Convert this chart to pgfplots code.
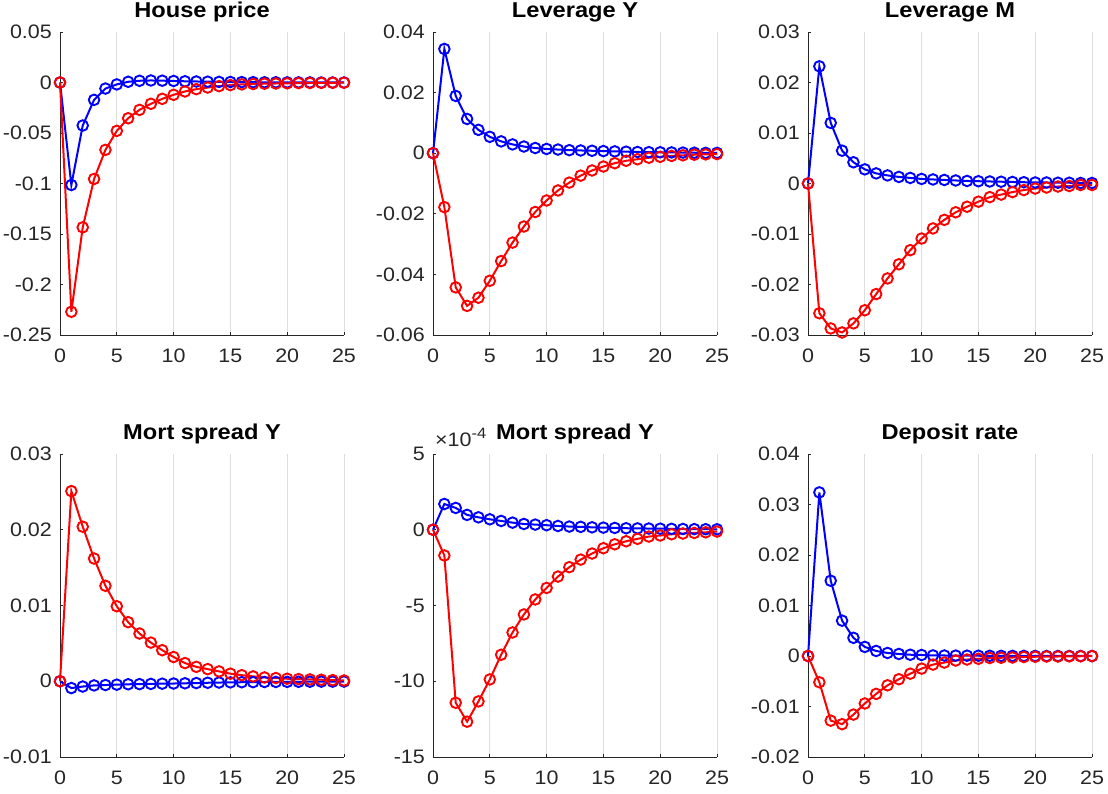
\documentclass[border=0pt]{standalone}
\usepackage{fontspec}
\setmainfont{Liberation Sans}[FakeStretch=1.1]
\usepackage{pgfplots}
\pgfplotsset{compat=1.18}
\definecolor{axc}{RGB}{38,38,38}
\definecolor{gridc}{RGB}{222,222,222}
\definecolor{mblue}{RGB}{0,0,255}
\definecolor{mred}{RGB}{255,0,0}
\pgfplotsset{
  panel/.style={
    scale only axis, width=284pt, height=303pt,
    anchor=south west,
    xmin=0, xmax=25, xtick={0,5,10,15,20,25},
    xticklabels={0,5,10,15,20,25},
    scaled y ticks=false, scaled x ticks=false,
    axis x line*=bottom, axis y line*=left,
    xmajorgrids, grid style={color=gridc, line width=0.7pt},
    tick align=inside, major tick length=3pt,
    axis line style={color=axc, line width=0.7pt},
    tick style={color=axc, line width=0.7pt},
    ticklabel style={font=\fontsize{19.5}{19.5}\selectfont, text=axc},
    yticklabel style={anchor=east, inner sep=0pt, xshift=-8pt},
    xticklabel style={anchor=north, inner sep=0pt, yshift=-14pt},
    title style={font=\bfseries\fontsize{21.5}{21.5}\selectfont, at={(0.5,1)}, anchor=base, yshift=8pt},
    clip=false,
  },
  bl/.style={color=mblue, line width=2pt, mark=o, mark size=5.3pt, mark options={solid, line width=1.9pt}},
  rd/.style={color=mred, line width=2pt, mark=o, mark size=5.3pt, mark options={solid, line width=1.9pt}},
}
\begin{document}
\begin{tikzpicture}[x=1pt,y=1pt]
% ---------------- Panel 1
\begin{axis}[panel, at={(60pt,459pt)}, title={House price},
  ymin=-0.25, ymax=0.05, ytick={-0.25,-0.2,-0.15,-0.1,-0.05,0,0.05},
  yticklabels={-0.25,-0.2,-0.15,-0.1,-0.05,0,0.05}]
\addplot[bl] coordinates {(0,0) (1,-0.1015) (2,-0.0426) (3,-0.0172) (4,-0.0060) (5,-0.0019) (6,0.0007) (7,0.0017) (8,0.0020) (9,0.0018) (10,0.0015) (11,0.0012) (12,0.0010) (13,0.0008) (14,0.0006) (15,0.0005) (16,0.0004) (17,0.0003) (18,0.0002) (19,0.0002) (20,0.0001) (21,0.0001) (22,0.0001) (23,0.0000) (24,0.0000) (25,0.0000)};
\addplot[rd] coordinates {(0,0) (1,-0.2270) (2,-0.1434) (3,-0.0955) (4,-0.0667) (5,-0.0479) (6,-0.0354) (7,-0.0271) (8,-0.0211) (9,-0.0162) (10,-0.0122) (11,-0.0089) (12,-0.0066) (13,-0.0050) (14,-0.0036) (15,-0.0026) (16,-0.0019) (17,-0.0015) (18,-0.0012) (19,-0.0010) (20,-0.0008) (21,-0.0006) (22,-0.0005) (23,-0.0004) (24,-0.0003) (25,-0.0002)};
\end{axis}
% ---------------- Panel 2
\begin{axis}[panel, at={(433pt,459pt)}, title={Leverage Y},
  ymin=-0.06, ymax=0.04, ytick={-0.06,-0.04,-0.02,0,0.02,0.04},
  yticklabels={-0.06,-0.04,-0.02,0,0.02,0.04}]
\addplot[bl] coordinates {(0,0) (1,0.0344) (2,0.0189) (3,0.0113) (4,0.0077) (5,0.0054) (6,0.0039) (7,0.0029) (8,0.0022) (9,0.0017) (10,0.0014) (11,0.0012) (12,0.0010) (13,0.0009) (14,0.0008) (15,0.0007) (16,0.0006) (17,0.0005) (18,0.0004) (19,0.00035) (20,0.0003) (21,0.00025) (22,0.0002) (23,0.00015) (24,0.0001) (25,0.0001)};
\addplot[rd] coordinates {(0,0) (1,-0.0178) (2,-0.0443) (3,-0.0504) (4,-0.0477) (5,-0.0421) (6,-0.0356) (7,-0.0295) (8,-0.0242) (9,-0.0194) (10,-0.0156) (11,-0.0123) (12,-0.0097) (13,-0.0074) (14,-0.0057) (15,-0.0044) (16,-0.0033) (17,-0.0025) (18,-0.0020) (19,-0.0015) (20,-0.0012) (21,-0.0009) (22,-0.0007) (23,-0.0005) (24,-0.0004) (25,-0.0003)};
\end{axis}
% ---------------- Panel 3
\begin{axis}[panel, at={(808pt,459pt)}, title={Leverage M},
  ymin=-0.03, ymax=0.03, ytick={-0.03,-0.02,-0.01,0,0.01,0.02,0.03},
  yticklabels={-0.03,-0.02,-0.01,0,0.01,0.02,0.03}]
\addplot[bl] coordinates {(0,0) (1,0.0232) (2,0.0120) (3,0.0065) (4,0.0042) (5,0.0028) (6,0.0020) (7,0.0016) (8,0.0013) (9,0.0011) (10,0.0009) (11,0.0008) (12,0.0007) (13,0.0006) (14,0.0005) (15,0.00045) (16,0.0004) (17,0.00035) (18,0.0003) (19,0.00025) (20,0.0002) (21,0.0002) (22,0.00015) (23,0.00015) (24,0.0001) (25,0.0001)};
\addplot[rd] coordinates {(0,0) (1,-0.0257) (2,-0.0287) (3,-0.0295) (4,-0.0277) (5,-0.0251) (6,-0.0219) (7,-0.0188) (8,-0.0160) (9,-0.0132) (10,-0.0109) (11,-0.0089) (12,-0.0072) (13,-0.0057) (14,-0.0046) (15,-0.0036) (16,-0.0027) (17,-0.0022) (18,-0.0017) (19,-0.0013) (20,-0.0010) (21,-0.0008) (22,-0.0006) (23,-0.0005) (24,-0.0003) (25,-0.0003)};
\end{axis}
% ---------------- Panel 4
\begin{axis}[panel, at={(60pt,37pt)}, title={Mort spread Y},
  ymin=-0.01, ymax=0.03, ytick={-0.01,0,0.01,0.02,0.03},
  yticklabels={-0.01,0,0.01,0.02,0.03}]
\addplot[bl] coordinates {(0,0) (1,-0.0009) (2,-0.0007) (3,-0.00055) (4,-0.0005) (5,-0.00045) (6,-0.0004) (7,-0.00038) (8,-0.00035) (9,-0.00032) (10,-0.0003) (11,-0.00027) (12,-0.00024) (13,-0.0002) (14,-0.00017) (15,-0.00015) (16,-0.00013) (17,-0.00012) (18,-0.0001) (19,-0.00009) (20,-0.00008) (21,-0.00007) (22,-0.00006) (23,-0.00005) (24,-0.00005) (25,-0.00004)};
\addplot[rd] coordinates {(0,0) (1,0.0251) (2,0.0204) (3,0.0162) (4,0.0126) (5,0.0099) (6,0.0078) (7,0.0063) (8,0.0051) (9,0.0041) (10,0.0032) (11,0.0024) (12,0.0019) (13,0.0016) (14,0.0013) (15,0.0010) (16,0.0008) (17,0.00064) (18,0.0005) (19,0.00042) (20,0.00033) (21,0.00028) (22,0.00024) (23,0.0002) (24,0.00015) (25,0.0001)};
\end{axis}
% ---------------- Panel 5 (values in units of 1e-4)
\begin{axis}[panel, at={(433pt,37pt)}, title={Mort spread Y},
  ymin=-15, ymax=5, ytick={-15,-10,-5,0,5},
  yticklabels={-15,-10,-5,0,5}]
\addplot[bl] coordinates {(0,0) (1,1.70) (2,1.44) (3,0.98) (4,0.82) (5,0.69) (6,0.58) (7,0.47) (8,0.38) (9,0.34) (10,0.30) (11,0.25) (12,0.21) (13,0.19) (14,0.16) (15,0.14) (16,0.12) (17,0.10) (18,0.09) (19,0.08) (20,0.07) (21,0.06) (22,0.05) (23,0.04) (24,0.035) (25,0.03)};
\addplot[rd] coordinates {(0,0) (1,-1.70) (2,-11.42) (3,-12.67) (4,-11.33) (5,-9.88) (6,-8.25) (7,-6.78) (8,-5.59) (9,-4.60) (10,-3.84) (11,-3.09) (12,-2.47) (13,-1.97) (14,-1.57) (15,-1.22) (16,-0.96) (17,-0.76) (18,-0.60) (19,-0.45) (20,-0.38) (21,-0.30) (22,-0.25) (23,-0.21) (24,-0.17) (25,-0.12)};
\node[anchor=base west, inner sep=0pt, text=axc, font=\fontsize{19.5}{19.5}\selectfont] at (rel axis cs:0,1) [xshift=2pt, yshift=7pt] {×10\raisebox{8pt}{\fontsize{15}{15}\selectfont -4}};
\end{axis}
% ---------------- Panel 6
\begin{axis}[panel, at={(808pt,37pt)}, title={Deposit rate},
  ymin=-0.02, ymax=0.04, ytick={-0.02,-0.01,0,0.01,0.02,0.03,0.04},
  yticklabels={-0.02,-0.01,0,0.01,0.02,0.03,0.04}]
\addplot[bl] coordinates {(0,0) (1,0.0324) (2,0.0149) (3,0.0070) (4,0.0036) (5,0.0018) (6,0.0010) (7,0.0006) (8,0.0004) (9,0.00025) (10,0.0002) (11,0.00012) (12,0.0001) (13,0.00008) (14,0.00006) (15,0.00005) (16,0.00004) (17,0.00003) (18,0.00002) (19,0.00002) (20,0.00001) (21,0) (22,0) (23,0) (24,0) (25,0)};
\addplot[rd] coordinates {(0,0) (1,-0.0052) (2,-0.0128) (3,-0.0135) (4,-0.0116) (5,-0.0094) (6,-0.0075) (7,-0.0058) (8,-0.0046) (9,-0.0035) (10,-0.0025) (11,-0.0017) (12,-0.0013) (13,-0.0009) (14,-0.0007) (15,-0.00055) (16,-0.0004) (17,-0.00035) (18,-0.0003) (19,-0.0002) (20,-0.00015) (21,-0.0001) (22,-0.0001) (23,-0.00007) (24,-0.00005) (25,-0.00003)};
\end{axis}
\pgfresetboundingbox
\path[use as bounding box] (0pt,0pt) rectangle (1108pt,794pt);
\end{tikzpicture}
\end{document}
